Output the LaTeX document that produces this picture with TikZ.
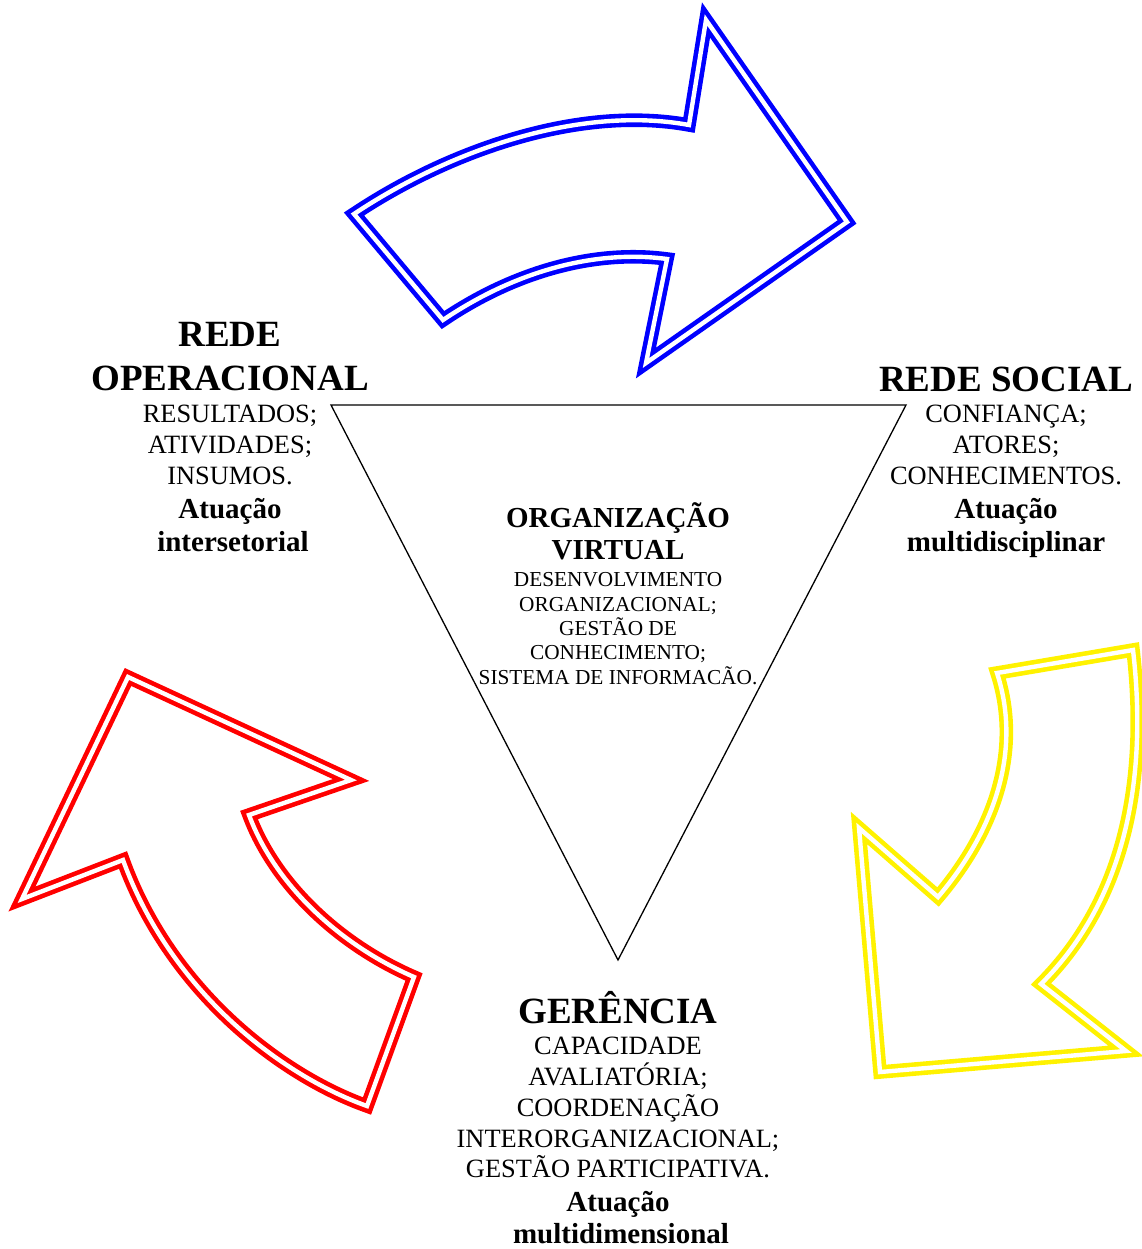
\documentclass[tikz,border=0pt]{standalone}
\usepackage{fontspec}
\setmainfont{Liberation Serif}
\begin{document}
\begin{tikzpicture}[x=1pt,y=-1pt,
  txt/.style={anchor=base,inner sep=0pt,align=center},
  head/.style={txt,font=\fontsize{37}{40}\selectfont\bfseries},
  body/.style={txt,font=\fontsize{26.4}{30}\selectfont},
  bodyb/.style={txt,font=\fontsize{29}{32}\selectfont\bfseries},
  chead/.style={txt,font=\fontsize{29}{32}\selectfont\bfseries},
  cbody/.style={txt,font=\fontsize{21.3}{24}\selectfont},
  arrowline/.style={draw=#1,line width=4.6pt,double=white,double distance=4.4pt,line join=miter,miter limit=20}
]
\useasboundingbox (0,0) rectangle (1141,1249);

% triangle
\coordinate (tl) at (331,405);
\coordinate (tr) at (906,405);
\coordinate (tb) at (618,960);
\draw[line width=1.3pt,line join=miter] (tl) -- (tr) -- (tb) -- cycle;

% blue arrow (top)
\draw[arrowline=blue] (354,214) .. controls (450,150) and (580,105) .. (689,125)
  -- (706,20) -- (847,222) -- (646,363) -- (667,259)
  .. controls (600,250) and (520,268) .. (443,320) -- cycle;

% red arrow (left)
\draw[arrowline=red] (128,677) -- (351,780) -- (249,815)
  .. controls (275,885) and (340,945) .. (414,977)
  -- (367,1106)
  .. controls (280,1075) and (170,990) .. (123,860)
  -- (22,899) -- cycle;

% yellow arrow (right)
\draw[arrowline=yellow] (997,673) -- (1133,650)
  .. controls (1148,780) and (1125,900) .. (1041,984)
  -- (1126,1051) -- (880,1072) -- (859,828) -- (938,897)
  .. controls (995,830) and (1022,750) .. (997,673) -- cycle;

% left block
\node[head] (lo1) at (230,346) {REDE};
\node[head] (lo2) at (230,390) {OPERACIONAL};
\node[body] (lo3) at (230,422) {RESULTADOS;};
\node[body] (lo4) at (230,453) {ATIVIDADES;};
\node[body] (lo5) at (230,484) {INSUMOS.};
\node[bodyb] (lo6) at (230,518) {Atuação};
\node[bodyb] (lo7) at (233,551) {intersetorial};

% right block
\node[head] (rs1) at (1006,391) {REDE SOCIAL};
\node[body] (rs2) at (1006,422) {CONFIANÇA;};
\node[body] (rs3) at (1006,453) {ATORES;};
\node[body] (rs4) at (1006,484) {CONHECIMENTOS.};
\node[bodyb] (rs5) at (1006,518) {Atuação};
\node[bodyb] (rs6) at (1006,551) {multidisciplinar};

% center block
\node[chead] (ov1) at (618,527) {ORGANIZAÇÃO};
\node[chead] (ov2) at (618,559) {VIRTUAL};
\node[cbody] (ov3) at (618,586) {DESENVOLVIMENTO};
\node[cbody] (ov4) at (618,611) {ORGANIZACIONAL;};
\node[cbody] (ov5) at (618,635) {GESTÃO DE};
\node[cbody] (ov6) at (618,659) {CONHECIMENTO;};
\node[cbody] (ov7) at (618,684) {SISTEMA DE INFORMACÃO.};

% bottom block
\node[head] (ge1) at (618,1023) {GERÊNCIA};
\node[body] (ge2) at (618,1054) {CAPACIDADE};
\node[body] (ge3) at (618,1085) {AVALIATÓRIA;};
\node[body] (ge4) at (618,1116) {COORDENAÇÃO};
\node[body] (ge5) at (618,1147) {INTERORGANIZACIONAL;};
\node[body] (ge6) at (618,1177) {GESTÃO PARTICIPATIVA.};
\node[bodyb] (ge7) at (618,1211) {Atuação};
\node[bodyb] (ge8) at (621,1243) {multidimensional};
\end{tikzpicture}
\end{document}
